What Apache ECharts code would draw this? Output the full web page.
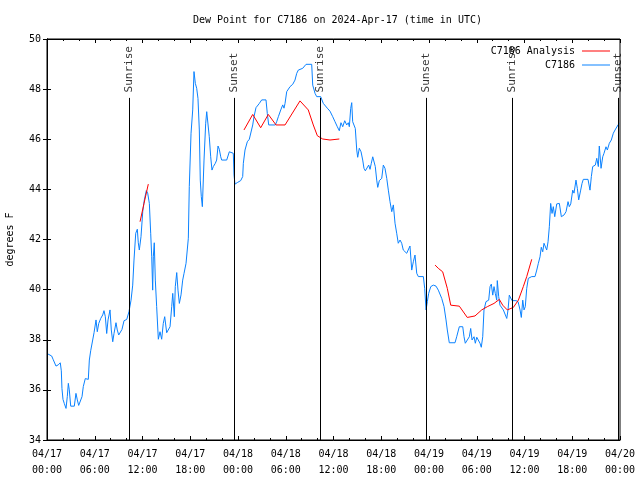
<!DOCTYPE html>
<html>
<head>
<meta charset="utf-8">
<script src="https://cdn.jsdelivr.net/npm/echarts@6/dist/echarts.min.js"></script>
<style>html,body{margin:0;padding:0;background:#fff}#c{width:640px;height:480px}</style>
</head>
<body>
<div id="c"></div>
<script>
// Hours since 2024-04-17 00:00 UTC
const obsHours = [0.13,0.59,0.79,1.13,1.42,1.67,1.80,1.88,2.01,2.17,2.39,2.55,2.68,2.80,2.98,3.23,3.43,3.64,3.81,3.98,4.23,4.40,4.56,4.81,4.99,5.19,5.32,5.49,5.74,5.91,6.16,6.32,6.50,6.75,7.00,7.16,7.33,7.50,7.67,7.92,8.08,8.26,8.42,8.67,8.83,9.01,9.26,9.42,9.68,10.02,10.30,10.56,10.77,10.93,11.15,11.35,11.47,11.60,11.81,12.03,12.23,12.48,12.65,12.86,13.03,13.16,13.28,13.36,13.48,13.61,13.78,13.99,14.20,14.41,14.61,14.79,15.04,15.29,15.46,15.67,15.80,16.00,16.12,16.30,16.46,16.63,16.84,17.05,17.22,17.47,17.76,17.88,18.10,18.31,18.47,18.64,18.81,18.97,19.14,19.26,19.39,19.52,19.73,19.94,20.07,20.27,20.39,20.57,20.73,20.90,21.15,21.32,21.49,21.65,21.83,21.95,22.58,22.78,22.91,23.12,23.41,23.50,23.62,23.91,24.34,24.59,24.67,24.88,25.17,25.42,25.60,25.85,26.01,26.26,26.68,26.98,27.52,27.68,27.86,28.69,28.86,29.07,29.37,29.62,29.78,29.91,30.12,30.54,30.87,31.16,31.38,31.58,32.13,32.55,33.26,33.39,33.68,33.89,34.39,34.72,35.22,35.56,35.90,36.19,36.48,36.73,36.94,37.16,37.41,37.66,37.86,37.99,38.16,38.29,38.41,38.58,38.74,38.92,39.04,39.24,39.46,39.67,39.83,40.00,40.25,40.42,40.59,40.75,40.93,41.09,41.25,41.43,41.56,41.76,42.06,42.26,42.47,42.69,42.89,43.10,43.32,43.52,43.73,43.94,44.14,44.36,44.57,44.77,44.99,45.20,45.40,45.61,45.83,46.03,46.24,46.46,46.66,47.29,47.46,47.63,47.79,47.96,48.22,48.54,48.88,49.17,49.60,49.89,50.14,50.30,50.55,51.27,51.48,51.81,52.24,52.40,52.56,52.81,53.07,53.24,53.41,53.66,53.82,54.00,54.20,54.41,54.57,54.75,54.91,55.16,55.50,55.67,55.83,56.01,56.17,56.33,56.51,56.58,56.76,56.92,57.14,57.34,57.55,57.77,57.93,58.09,58.27,58.43,58.93,59.19,59.44,59.60,59.78,59.94,60.10,60.28,60.48,60.91,61.32,61.54,61.74,61.95,62.11,62.29,62.45,62.62,62.79,62.96,63.12,63.29,63.46,63.62,63.80,64.05,64.38,64.63,64.97,65.22,65.47,65.63,65.81,66.06,66.22,66.47,66.64,66.81,67.06,67.23,67.39,67.98,68.23,68.40,68.57,68.90,69.08,69.28,69.40,69.62,69.83,69.99,70.24,70.41,70.66,70.91,71.16,71.38,71.59,71.75,71.92];
const obsValues = [37.43,37.35,37.2,36.95,37.0,37.08,36.76,36.05,35.62,35.46,35.26,35.73,36.26,36.0,35.35,35.4,35.35,35.86,35.6,35.38,35.38,35.73,36.13,36.45,36.52,36.42,37.19,37.56,37.56,38.28,38.79,38.32,38.65,38.85,38.99,39.16,38.92,38.25,38.79,39.19,38.39,37.92,38.25,38.68,38.39,38.19,38.19,38.41,38.76,38.81,39.12,39.58,40.18,41.18,42.25,42.41,41.87,41.58,42.11,43.11,43.58,43.95,43.85,43.44,42.25,41.31,39.98,41.31,41.87,40.38,39.32,38.02,38.32,38.02,38.65,38.92,38.28,38.32,38.52,39.32,39.85,38.92,40.12,40.68,39.98,39.45,39.79,40.38,40.65,41.05,42.05,44.11,46.24,47.17,48.7,48.23,48.03,47.63,46.37,44.37,43.71,43.31,45.17,46.64,47.1,47.03,46.1,45.3,44.77,44.91,45.04,45.17,45.73,45.6,45.3,45.17,45.17,45.24,45.5,45.46,45.44,44.57,44.21,44.27,44.35,44.51,45.04,45.57,45.9,46.0,46.04,46.57,46.9,47.26,47.43,47.57,47.57,47.03,46.57,46.57,46.7,46.9,47.17,47.37,47.24,47.43,47.9,48.1,48.19,48.36,48.63,48.76,48.83,48.99,48.99,48.16,47.83,47.7,47.7,47.43,47.24,47.12,46.9,46.7,46.5,46.34,46.66,46.5,46.74,46.57,46.66,46.5,47.23,47.46,46.7,46.7,46.43,45.57,45.28,45.64,45.5,45.17,44.84,44.74,44.74,44.97,44.8,45.04,45.3,45.24,44.91,44.37,44.08,44.35,44.44,44.97,44.84,44.44,43.97,43.51,43.11,43.38,42.65,42.25,41.85,41.98,41.85,41.58,41.51,41.45,41.38,41.74,40.78,41.11,41.38,40.65,40.52,40.52,40.05,39.19,39.52,39.85,40.12,40.18,40.14,39.98,39.65,39.32,38.79,38.39,37.88,37.88,38.12,38.52,38.52,38.12,37.86,37.86,38.12,38.45,37.99,38.12,37.86,38.1,38.06,37.86,37.7,38.12,39.19,39.52,39.58,40.12,40.22,39.78,40.12,39.85,39.58,40.36,39.72,39.38,39.45,39.19,39.19,38.85,39.19,39.78,39.72,39.56,39.56,39.52,39.19,38.89,39.58,39.19,39.32,40.05,40.45,40.52,40.52,40.78,41.05,41.31,41.69,41.51,41.85,41.91,41.58,41.91,42.51,43.44,43.04,43.31,42.91,43.42,43.44,42.91,42.98,43.11,43.51,43.31,43.42,43.97,43.85,44.37,44.04,43.58,43.97,44.24,44.4,44.4,43.97,44.51,44.91,44.97,45.24,44.91,45.73,44.84,45.3,45.44,45.7,45.57,45.84,45.97,46.24,46.37,46.4,46.57,46.64];

// Analysis segments (null = gap)
const anaHours = [11.69,12.19,12.73,null,24.75,25.85,26.85,27.81,28.78,29.91,31.79,32.83,33.46,33.97,34.64,35.56,36.73,null,48.76,49.17,49.72,50.30,50.73,51.81,52.81,53.78,54.62,55.33,56.17,56.84,57.26,57.84,58.60,59.23,59.85,60.28,60.91];
const anaValues = [42.71,43.44,44.21,null,46.37,46.99,46.46,46.99,46.57,46.57,47.53,47.17,46.57,46.14,46.01,45.97,46.01,null,40.98,40.85,40.71,40.05,39.38,39.34,38.89,38.95,39.19,39.32,39.45,39.61,39.38,39.19,39.29,39.58,40.12,40.52,41.21];

const sunHours = [10.33,23.54,34.37,47.65,58.46,71.79];
const sunLabels = ['Sunrise','Sunset','Sunrise','Sunset','Sunrise','Sunset'];
const sunLineTop = 47.65;

const mono = 'DejaVu Sans Mono';
const chart = echarts.init(document.getElementById('c'), null, {renderer:'canvas'});

const obsData = obsHours.map((h,i)=>[h, obsValues[i]]);
const anaData = anaHours.map((h,i)=> h===null ? [null,null] : [h, anaValues[i]]);

function xLabel(v){
  const day = 17 + Math.floor(v/24);
  const hr = v % 24;
  return '04/' + String(day).padStart(2,'0') + '\n' + String(hr).padStart(2,'0') + ':00';
}

const xCommon = {type:'value', min:0, max:72, interval:6,
  splitLine:{show:false},
  axisLine:{lineStyle:{color:'#000',width:1}},
  axisTick:{inside:true,length:4,lineStyle:{color:'#000'}},
  minorTick:{show:true,splitNumber:3,length:2,lineStyle:{color:'#000'}},
  minorSplitLine:{show:false}};
const yCommon = {type:'value', min:34, max:50, interval:2,
  splitLine:{show:false},
  axisLine:{show:true,lineStyle:{color:'#000',width:1}},
  axisTick:{show:true,inside:true,length:4,lineStyle:{color:'#000'}}};

chart.setOption({
  animation:false,
  backgroundColor:'#fff',
  title:{text:'Dew Point for C7186 on 2024-Apr-17 (time in UTC)', left:188, top:10,
    textStyle:{fontFamily:mono,fontSize:10,fontWeight:'normal',color:'#000'}},
  legend:{data:['C7186 Analysis','C7186'], orient:'vertical', right:25, top:41, align:'right',
    itemWidth:28, itemHeight:1, itemGap:4, icon:'rect',
    textStyle:{fontFamily:mono,fontSize:10,color:'#000',padding:[0,2,0,0]}},
  grid:{left:47,right:20,top:39,bottom:40,show:true,borderColor:'#000',borderWidth:1,
    containLabel:false, outerBoundsMode:'none'},
  xAxis:[
    Object.assign({}, xCommon, {position:'bottom',
      axisLabel:{formatter:xLabel,fontFamily:mono,fontSize:10,color:'#000',lineHeight:16,margin:6}}),
    Object.assign({}, xCommon, {position:'top', axisLabel:{show:false}})
  ],
  yAxis:[
    Object.assign({}, yCommon, {position:'left', name:'degrees F', nameLocation:'middle', nameGap:32,
      nameTextStyle:{fontFamily:mono,fontSize:10,color:'#000'},
      axisLabel:{fontFamily:mono,fontSize:10,color:'#000',margin:6}}),
    Object.assign({}, yCommon, {position:'right', axisLabel:{show:false}})
  ],
  series:[
    {name:'C7186 Analysis', type:'line', data:anaData, showSymbol:false, symbol:'none', connectNulls:false,
      lineStyle:{color:'#ff0000',width:1}, itemStyle:{color:'#ff0000'}, z:4},
    {name:'C7186', type:'line', data:obsData, showSymbol:false, symbol:'none',
      lineStyle:{color:'#0a82ff',width:1}, itemStyle:{color:'#0a82ff'}, z:3},
    {name:'sun', type:'line', data:[], symbol:'none',
      markLine:{symbol:'none', silent:true, label:{show:false},
        lineStyle:{color:'#000',width:1,type:'solid'},
        data: sunHours.map(h=>[{coord:[h,34]},{coord:[h,sunLineTop]}])}},
    {name:'sunLabels', type:'scatter', symbolSize:1, itemStyle:{color:'transparent'},
      data: sunHours.map((h,i)=>({value:[h,sunLineTop], name:sunLabels[i]})),
      label:{show:true, formatter:p=>p.name, position:'top', distance:5, rotate:90,
        align:'left', verticalAlign:'middle', fontFamily:mono, fontSize:11, color:'#000'}, z:5}
  ]
});
</script>
</body>
</html>
